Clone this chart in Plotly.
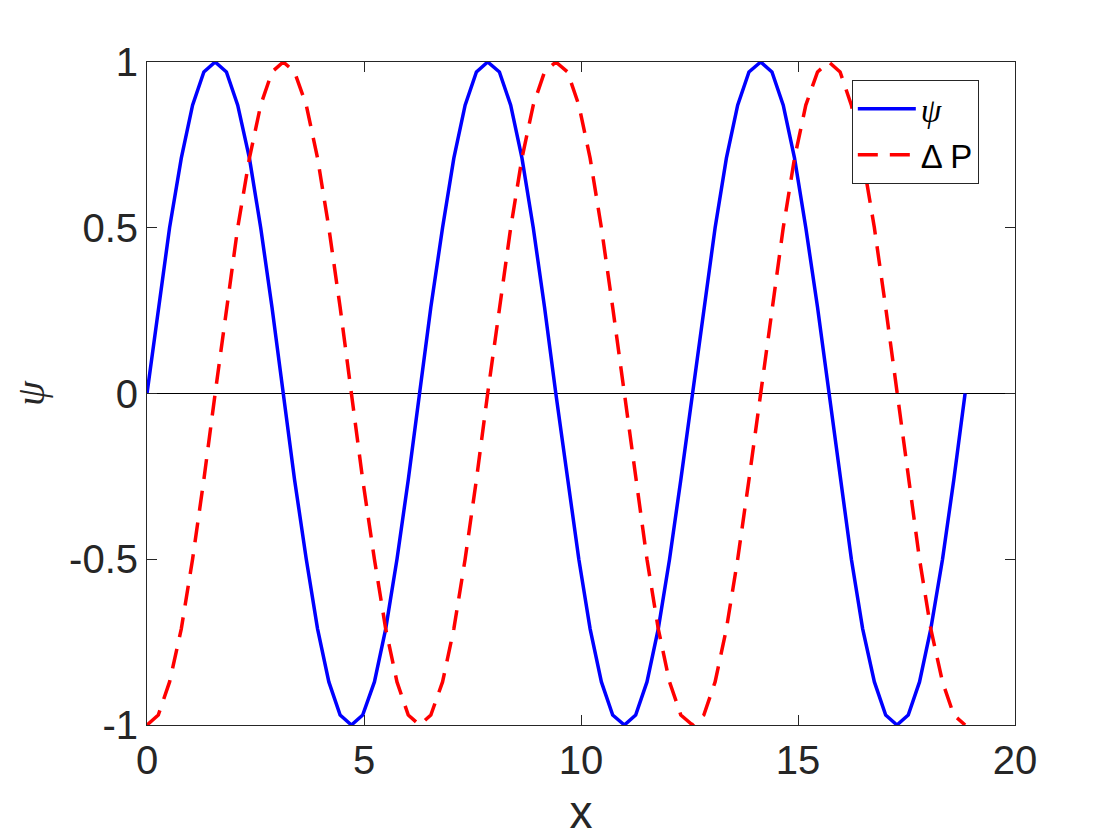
import plotly.graph_objects as go

x = [0, 0.26, 0.52, 0.79, 1.05, 1.31, 1.57, 1.83, 2.09, 2.36, 2.62, 2.88,
     3.14, 3.40, 3.67, 3.93, 4.19, 4.45, 4.71, 4.97, 5.24, 5.50, 5.76, 6.02,
     6.28, 6.54, 6.81, 7.07, 7.33, 7.59, 7.85, 8.12, 8.38, 8.64, 8.90, 9.16,
     9.42, 9.69, 9.95, 10.21, 10.47, 10.73, 11.00, 11.26, 11.52, 11.78, 12.04, 12.30,
     12.57, 12.83, 13.09, 13.35, 13.61, 13.87, 14.14, 14.40, 14.66, 14.92, 15.18, 15.45,
     15.71, 15.97, 16.23, 16.49, 16.76, 17.02, 17.28, 17.54, 17.80, 18.06, 18.33, 18.59,
     18.85]

psi = [0, 0.26, 0.5, 0.71, 0.87, 0.97, 1, 0.97, 0.87, 0.71, 0.5, 0.26,
       0, -0.26, -0.5, -0.71, -0.87, -0.97, -1, -0.97, -0.87, -0.71, -0.5, -0.26,
       0, 0.26, 0.5, 0.71, 0.87, 0.97, 1, 0.97, 0.87, 0.71, 0.5, 0.26,
       0, -0.26, -0.5, -0.71, -0.87, -0.97, -1, -0.97, -0.87, -0.71, -0.5, -0.26,
       0, 0.26, 0.5, 0.71, 0.87, 0.97, 1, 0.97, 0.87, 0.71, 0.5, 0.26,
       0, -0.26, -0.5, -0.71, -0.87, -0.97, -1, -0.97, -0.87, -0.71, -0.5, -0.26,
       0]

dP = [-1, -0.97, -0.87, -0.71, -0.5, -0.26, 0, 0.26, 0.5, 0.71, 0.87, 0.97,
      1, 0.97, 0.87, 0.71, 0.5, 0.26, 0, -0.26, -0.5, -0.71, -0.87, -0.97,
      -1, -0.97, -0.87, -0.71, -0.5, -0.26, 0, 0.26, 0.5, 0.71, 0.87, 0.97,
      1, 0.97, 0.87, 0.71, 0.5, 0.26, 0, -0.26, -0.5, -0.71, -0.87, -0.97,
      -1, -0.97, -0.87, -0.71, -0.5, -0.26, 0, 0.26, 0.5, 0.71, 0.87, 0.97,
      1, 0.97, 0.87, 0.71, 0.5, 0.26, 0, -0.26, -0.5, -0.71, -0.87, -0.97,
      -1]

x_ticks = [0, 5, 10, 15, 20]
y_ticks = [-1, -0.5, 0, 0.5, 1]
y_tick_text = ["-1", "-0.5", "0", "0.5", "1"]

psi_sym = "<span style=\"font-family:'Liberation Serif', 'DejaVu Serif', serif;font-style:italic\">ψ</span>"

fig = go.Figure()
fig.add_trace(go.Scatter(x=x, y=psi, mode="lines", name=psi_sym,
                         line=dict(color="#0000ff", width=3.5)))
fig.add_trace(go.Scatter(x=x, y=dP, mode="lines", name="Δ P",
                         line=dict(color="#ff0000", width=3.5, dash="20px,12px")))

axis_common = dict(showline=True, linecolor="#262626", linewidth=1, mirror="ticks",
                   ticks="inside", ticklen=10, tickcolor="#262626", showgrid=False,
                   automargin=False,
                   tickfont=dict(size=40, color="#262626"))

fig.update_layout(
    width=1120, height=840,
    paper_bgcolor="white", plot_bgcolor="white",
    margin=dict(l=139, r=113, t=54, b=123, autoexpand=False),
    font=dict(family="Liberation Sans, Arial, sans-serif", color="#262626"),
    xaxis=dict(range=[0, 20], tickvals=x_ticks, zeroline=False,
               title=dict(text="x", font=dict(size=46), standoff=14), **axis_common),
    yaxis=dict(range=[-1, 1], tickvals=y_ticks, ticktext=y_tick_text,
               zeroline=True, zerolinecolor="black", zerolinewidth=1,
               title=dict(text=psi_sym, font=dict(size=40), standoff=40), **axis_common),
    legend=dict(x=0.812, y=0.973, xanchor="left", yanchor="top",
                bordercolor="#262626", borderwidth=1, bgcolor="white",
                itemwidth=58,
                font=dict(size=33, color="black"), tracegroupgap=0),
    showlegend=True,
)

fig.write_html("out.html")
